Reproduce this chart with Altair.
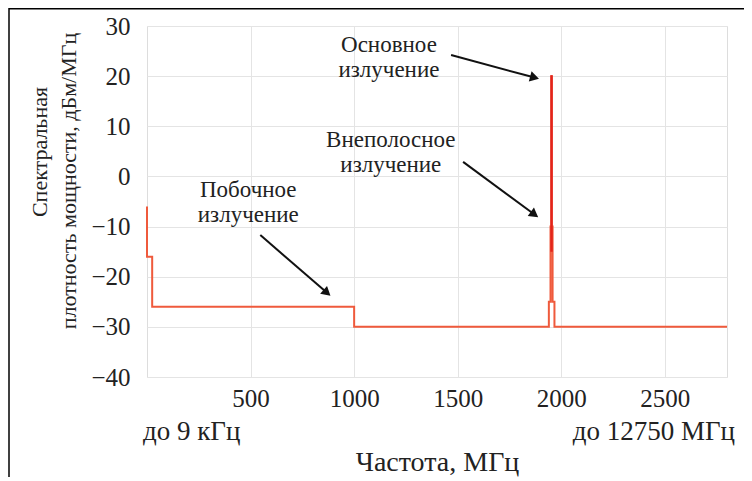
import altair as alt
import pandas as pd
import math

# ---- data ----
freq_mhz = [0, 0, 25, 25, 1000, 1000, 1940, 1940, 1948, 1948, 1952, 1952,
            1954, 1954, 1958, 1958, 1967, 1967, 2800]
psd_dbm = [-6, -16, -16, -26, -26, -30, -30, -25, -25, -10, -10, 20,
           20, -10, -10, -25, -25, -30, -30]

peak_freq = [1952, 1952, 1954, 1954]
peak_psd = [-15, 20, 20, -15]

x_ticks = [500, 1000, 1500, 2000, 2500]
y_ticks = [-40, -30, -20, -10, 0, 10, 20, 30]

ann_text = ["Основное", "излучение", "Внеполосное", "излучение", "Побочное", "излучение"]
ann_x = [1168, 1168, 1177, 1177, 489, 489]
ann_y = [26.2, 21.2, 7.3, 2.3, -2.7, -7.7]

arrow_x1 = [1468, 1526, 547]
arrow_y1 = [24.2, 2.9, -11.7]
arrow_x2 = [1899, 1894, 891]
arrow_y2 = [19.4, -8.3, -24.0]

FONT = "Liberation Serif"
FS_TICK = 25
FS_ANN = 23
FS_EXTRA = 27
FS_TITLE = 28
FS_YT = 22
LINE_C = "#EF5A3C"
PEAK_C = "#E3241B"

W, H = 580, 351
XD, YD = [0, 2800], [-40, 30]
pxx = W / (XD[1] - XD[0])
pxy = H / (YD[1] - YD[0])

# arrowhead geometry (screen direction -> angle, head centre set back from tip)
HEAD = 6.0
head_x, head_y, head_a = [], [], []
for x1, y1, x2, y2 in zip(arrow_x1, arrow_y1, arrow_x2, arrow_y2):
    dx = (x2 - x1) * pxx
    dy = -(y2 - y1) * pxy
    L = math.hypot(dx, dy)
    ux, uy = dx / L, dy / L
    head_x.append(x2 - ux * HEAD / pxx)
    head_y.append(y2 + uy * HEAD / pxy)
    head_a.append(math.degrees(math.atan2(dx, -dy)))

df = pd.DataFrame({"f": freq_mhz, "p": psd_dbm, "o": list(range(len(freq_mhz)))})
dpk = pd.DataFrame({"f": peak_freq, "p": peak_psd, "o": list(range(len(peak_freq)))})
dann = pd.DataFrame({"t": ann_text, "x": ann_x, "y": ann_y})
darr = pd.DataFrame({"x1": arrow_x1, "y1": arrow_y1, "x2": head_x, "y2": head_y})
dhead = pd.DataFrame({"hx": head_x, "hy": head_y, "a": head_a})

xs = alt.Scale(domain=XD, nice=False, zero=False)
ys = alt.Scale(domain=YD, nice=False)

xaxis = alt.Axis(values=x_ticks, format="d", grid=True, ticks=False, domain=False, labelPadding=9,
                 labelFontSize=FS_TICK, labelFont=FONT, labelColor="#222",
                 title="Частота, МГц", titleFont=FONT, titleFontSize=FS_TITLE, titleFontWeight="normal",
                 titleColor="#222", titleY=85, titleBaseline="middle", gridColor="#e4e4e4")
yaxis = alt.Axis(values=y_ticks, format="d", grid=True, ticks=False, domain=False, labelPadding=17,
                 labelFontSize=FS_TICK, labelFont=FONT, labelColor="#222", title=None,
                 gridColor="#e4e4e4")

line = alt.Chart(df).mark_line(color=LINE_C, strokeWidth=2, interpolate="linear").encode(
    x=alt.X("f:Q", scale=xs, axis=xaxis),
    y=alt.Y("p:Q", scale=ys, axis=yaxis),
    order="o:Q",
)
peak = alt.Chart(dpk).mark_line(color=PEAK_C, strokeWidth=2).encode(
    x=alt.X("f:Q", scale=xs), y=alt.Y("p:Q", scale=ys), order="o:Q"
)

ann = alt.Chart(dann).mark_text(font=FONT, fontSize=FS_ANN, color="#222", baseline="middle").encode(
    x=alt.X("x:Q", scale=xs), y=alt.Y("y:Q", scale=ys), text="t:N"
)

arr = alt.Chart(darr).mark_rule(color="#111", strokeWidth=2).encode(
    x=alt.X("x1:Q", scale=xs), y=alt.Y("y1:Q", scale=ys), x2="x2:Q", y2="y2:Q"
)
head = alt.Chart(dhead).mark_point(
    shape="triangle-up", filled=True, color="#111", size=110, opacity=1
).encode(x=alt.X("hx:Q", scale=xs), y=alt.Y("hy:Q", scale=ys), angle=alt.Angle("a:Q", scale=None))

one = pd.DataFrame({"k": [0]})
extra_l = alt.Chart(one).mark_text(font=FONT, fontSize=FS_EXTRA, color="#222", align="left",
                                   baseline="middle", dx=-4).encode(
    x=alt.X("k:Q", scale=xs), y=alt.value(406), text=alt.value("до 9 кГц"))
extra_r = alt.Chart(pd.DataFrame({"k": [2800]})).mark_text(
    font=FONT, fontSize=FS_EXTRA, color="#222", align="right", baseline="middle", dx=8).encode(
    x=alt.X("k:Q", scale=xs), y=alt.value(406), text=alt.value("до 12750 МГц"))

yt1 = alt.Chart(one).mark_text(font=FONT, fontSize=FS_YT, color="#222", angle=270,
                               baseline="middle", align="center").encode(
    x=alt.value(-107), y=alt.value(126), text=alt.value("Спектральная"))
yt2 = alt.Chart(one).mark_text(font=FONT, fontSize=FS_YT, color="#222", angle=270,
                               baseline="middle", align="center").encode(
    x=alt.value(-78), y=alt.value(155), text=alt.value("плотность мощности, дБм/МГц"))

frame_top = alt.Chart(one).mark_rule(color="#000", strokeWidth=1.5).encode(
    x=alt.value(-138), x2=alt.value(620), y=alt.value(-17.2))
frame_left = alt.Chart(one).mark_rule(color="#000", strokeWidth=1.5).encode(
    x=alt.value(-138), y=alt.value(-18), y2=alt.value(470))

chart = alt.layer(line, peak, arr, head, ann, extra_l, extra_r, yt1, yt2, frame_top, frame_left).properties(
    width=W, height=H,
    autosize=alt.AutoSizeParams(type="none"),
    padding={"left": 139, "top": 18, "right": 17, "bottom": 100},
).configure_view(stroke="#9c9c9c", strokeWidth=2).configure(background="white")

chart.save("out.html", embed_options={"renderer": "svg", "actions": False})
